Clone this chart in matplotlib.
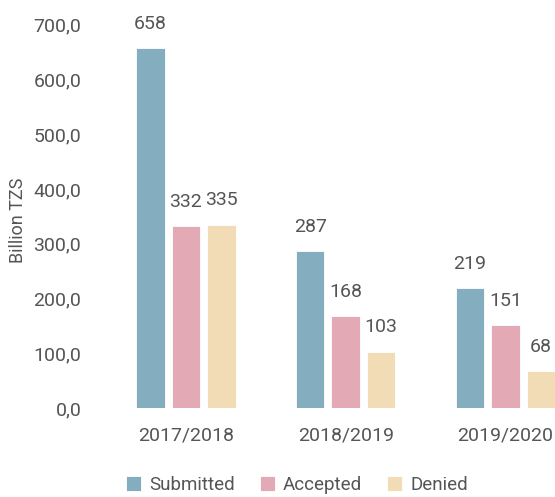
import matplotlib.pyplot as plt
import numpy as np

years = ["2017/2018", "2018/2019", "2019/2020"]
series = ["Submitted", "Accepted", "Denied"]
submitted = [658, 287, 219]
accepted = [332, 168, 151]
denied = [335, 103, 68]
colors = ["#84adc0", "#e3a9b4", "#f2dcb5"]

plt.rcParams["font.family"] = ["Roboto", "DejaVu Sans"]
TXT = "#555555"

fig = plt.figure(figsize=(5.55, 4.97), dpi=100)
ax = fig.add_axes([98 / 555, 0.179, (555 - 98) / 555, 0.771])

x = np.arange(len(years))
step = 0.222
width = 0.178
for i, (name, vals, col) in enumerate(zip(series, [submitted, accepted, denied], colors)):
    pos = x + (i - 1) * step
    bars = ax.bar(pos, vals, width, color=col, edgecolor="white", linewidth=0.6, label=name)
    for b, v in zip(bars, vals):
        ax.annotate(f"{v}", (b.get_x() + b.get_width() / 2, v),
                    xytext=(0, 11), textcoords="offset points",
                    ha="center", va="bottom", fontsize=14, color=TXT,
                    annotation_clip=False)

ax.set_xlim(-0.55, 2.31)
ax.set_ylim(0, 700)
ax.set_yticks(np.arange(0, 701, 100))
ax.set_yticklabels([f"{v:.1f}".replace(".", ",") for v in np.arange(0, 701, 100)])
ax.set_xticks(x)
ax.set_xticklabels(years)
ax.tick_params(axis="both", length=0, labelsize=14, labelcolor=TXT)
ax.tick_params(axis="y", pad=12)
ax.tick_params(axis="x", pad=13)
for s in ax.spines.values():
    s.set_visible(False)

fig.text(0.032, 0.557, "Billion TZS", rotation=90, ha="center", va="center",
         fontsize=13, color=TXT)

fig.legend(loc="center", bbox_to_anchor=(0.535, 0.024), ncol=3, frameon=False,
           fontsize=13.5, handlelength=0.8, handleheight=0.8, handletextpad=0.45,
           columnspacing=1.3, labelcolor=TXT)

fig.savefig("out.png", dpi=100)
